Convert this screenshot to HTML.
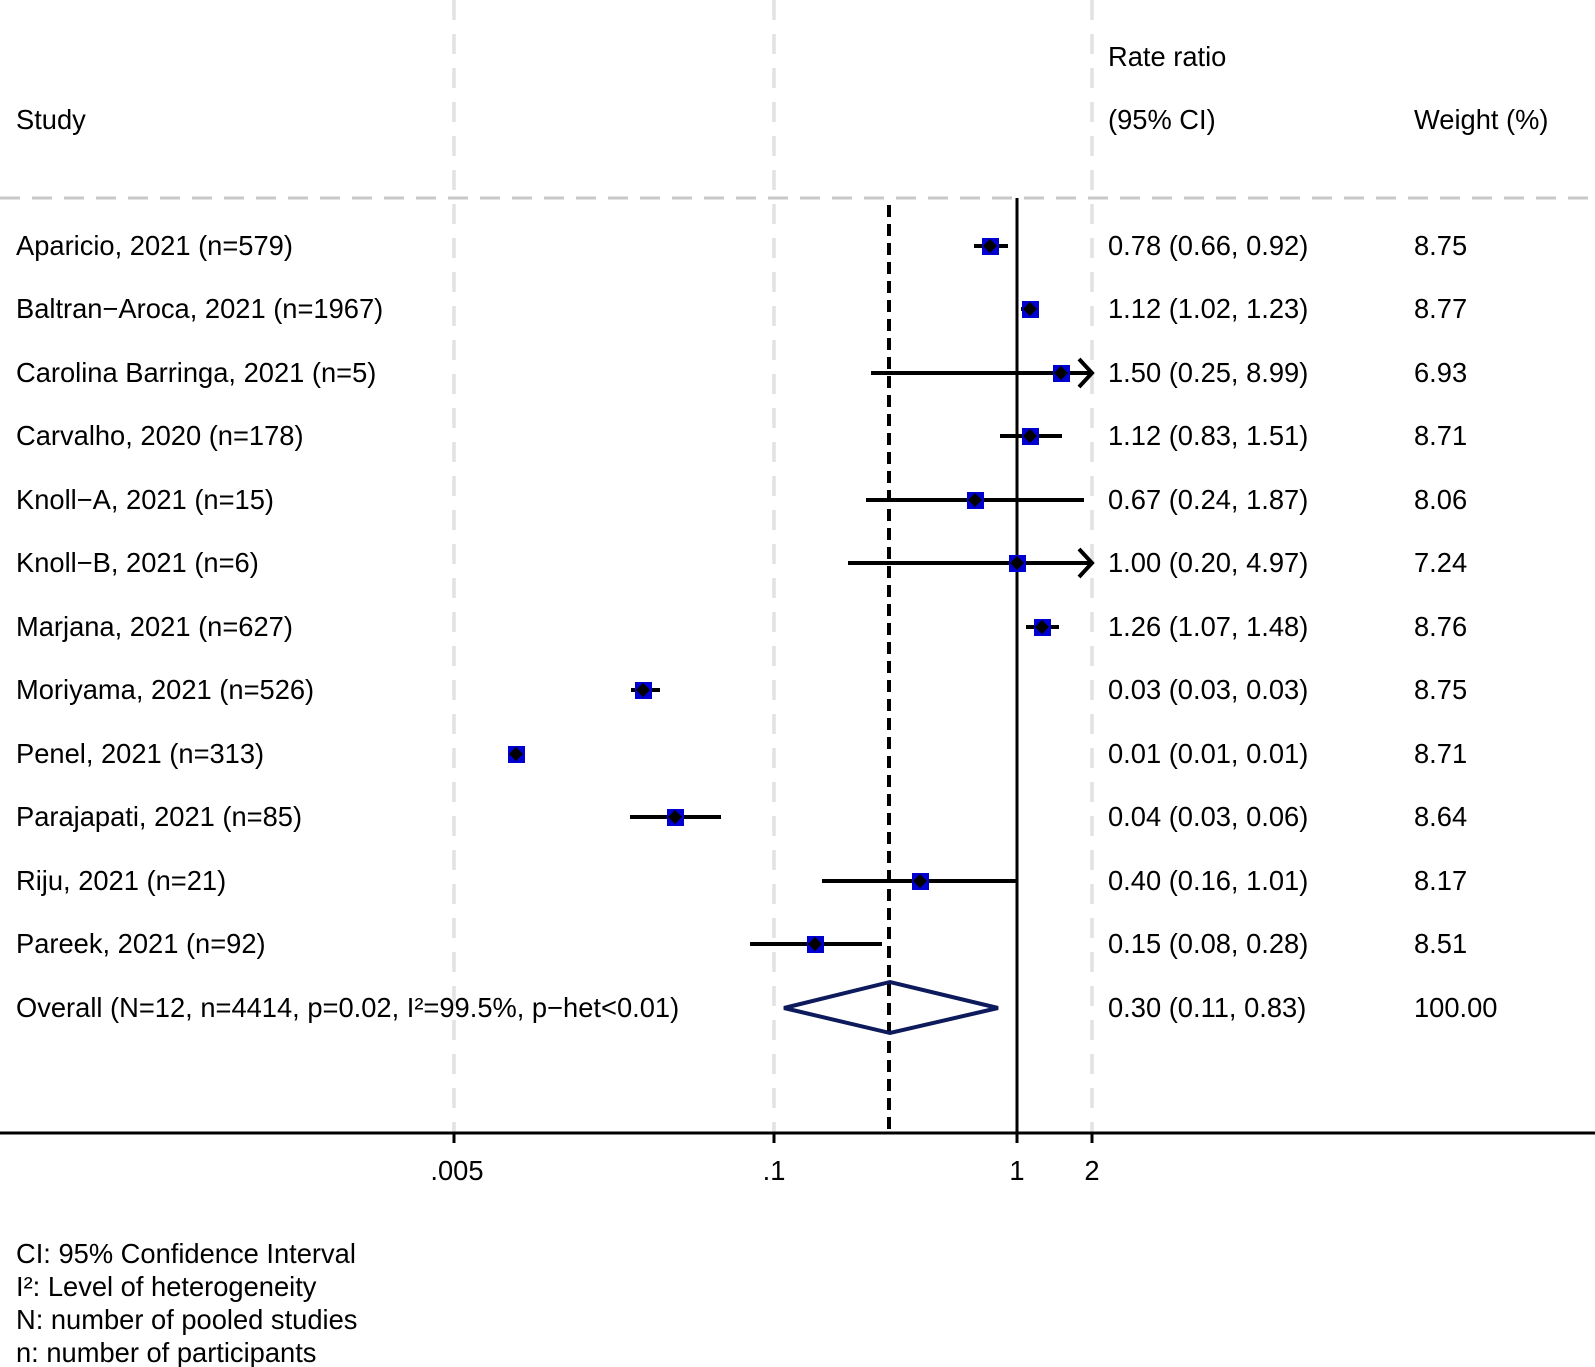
<!DOCTYPE html>
<html><head><style>body{margin:0;background:#fff}svg{display:block}text{font-family:"Liberation Sans",Arial,sans-serif;font-size:27.3px;fill:#000}</style></head><body>
<svg width="1595" height="1367" viewBox="0 0 1595 1367" xmlns="http://www.w3.org/2000/svg">
<g stroke="#e2e2e2" stroke-width="3.5" stroke-dasharray="20,14">
<line x1="454" y1="0" x2="454" y2="1133"/><line x1="774" y1="0" x2="774" y2="1133"/><line x1="1092" y1="0" x2="1092" y2="1133"/>
</g>
<line x1="0" y1="198" x2="1595" y2="198" stroke="#c8c8c8" stroke-width="3" stroke-dasharray="20,12"/>
<line x1="1017" y1="198" x2="1017" y2="1133" stroke="#000" stroke-width="3"/>
<line x1="889" y1="205" x2="889" y2="1133" stroke="#000" stroke-width="4" stroke-dasharray="12,7"/>
<line x1="0" y1="1133" x2="1595" y2="1133" stroke="#000" stroke-width="3"/>
<g stroke="#000" stroke-width="3">
<line x1="454" y1="1133" x2="454" y2="1143"/><line x1="774" y1="1133" x2="774" y2="1143"/><line x1="1017" y1="1133" x2="1017" y2="1143"/><line x1="1092" y1="1133" x2="1092" y2="1143"/>
</g>
<g text-anchor="middle"><text x="457" y="1180">.005</text><text x="774" y="1180">.1</text><text x="1017" y="1180">1</text><text x="1092" y="1180">2</text></g>
<text x="1108" y="66">Rate ratio</text><text x="1108" y="129">(95% CI)</text><text x="16" y="129">Study</text><text x="1414" y="129">Weight (%)</text>
<g stroke="#000" stroke-width="4" fill="none">
<line x1="974" y1="246" x2="1008" y2="246"/>
<line x1="1021" y1="309" x2="1038" y2="309"/>
<line x1="871" y1="373" x2="1090" y2="373"/><polyline points="1079,359 1092,373 1079,387"/>
<line x1="1000" y1="436" x2="1062" y2="436"/>
<line x1="866" y1="500" x2="1084" y2="500"/>
<line x1="848" y1="563" x2="1090" y2="563"/><polyline points="1079,549 1092,563 1079,577"/>
<line x1="1026" y1="627" x2="1059" y2="627"/>
<line x1="631" y1="690" x2="660" y2="690"/>
<line x1="630" y1="817" x2="721" y2="817"/>
<line x1="822" y1="881" x2="1016" y2="881"/>
<line x1="750" y1="944" x2="882" y2="944"/>
</g>
<g>
<rect x="982" y="238" width="17" height="17" fill="#0000d0"/>
<rect x="1022" y="301" width="17" height="17" fill="#0000d0"/>
<rect x="1053" y="365" width="17" height="17" fill="#0000d0"/>
<rect x="1022" y="428" width="17" height="17" fill="#0000d0"/>
<rect x="967" y="492" width="17" height="17" fill="#0000d0"/>
<rect x="1009" y="555" width="17" height="17" fill="#0000d0"/>
<rect x="1034" y="619" width="17" height="17" fill="#0000d0"/>
<rect x="635" y="682" width="17" height="17" fill="#0000d0"/>
<rect x="508" y="746" width="17" height="17" fill="#0000d0"/>
<rect x="667" y="809" width="17" height="17" fill="#0000d0"/>
<rect x="912" y="873" width="17" height="17" fill="#0000d0"/>
<rect x="807" y="936" width="17" height="17" fill="#0000d0"/>
</g>
<g fill="#000">
<polygon points="990,239 997,246 990,253 983,246"/>
<polygon points="1030,302 1037,309 1030,316 1023,309"/>
<polygon points="1061,366 1068,373 1061,380 1054,373"/>
<polygon points="1030,429 1037,436 1030,443 1023,436"/>
<polygon points="975,493 982,500 975,507 968,500"/>
<polygon points="1017,556 1024,563 1017,570 1010,563"/>
<polygon points="1042,620 1049,627 1042,634 1035,627"/>
<polygon points="643,683 650,690 643,697 636,690"/>
<polygon points="516,747 523,754 516,761 509,754"/>
<polygon points="675,810 682,817 675,824 668,817"/>
<polygon points="920,874 927,881 920,888 913,881"/>
<polygon points="815,937 822,944 815,951 808,944"/>
</g>
<polygon points="784,1008 890,982 998,1008 890,1033" fill="none" stroke="#0d1a5c" stroke-width="4"/>
<g>
<text x="16" y="255">Aparicio, 2021 (n=579)</text>
<text x="16" y="318">Baltran−Aroca, 2021 (n=1967)</text>
<text x="16" y="382">Carolina Barringa, 2021 (n=5)</text>
<text x="16" y="445">Carvalho, 2020 (n=178)</text>
<text x="16" y="509">Knoll−A, 2021 (n=15)</text>
<text x="16" y="572">Knoll−B, 2021 (n=6)</text>
<text x="16" y="636">Marjana, 2021 (n=627)</text>
<text x="16" y="699">Moriyama, 2021 (n=526)</text>
<text x="16" y="763">Penel, 2021 (n=313)</text>
<text x="16" y="826">Parajapati, 2021 (n=85)</text>
<text x="16" y="890">Riju, 2021 (n=21)</text>
<text x="16" y="953">Pareek, 2021 (n=92)</text>
<text x="16" y="1017">Overall (N=12, n=4414, p=0.02, I²=99.5%, p−het&lt;0.01)</text>
</g>
<g>
<text x="1108" y="255">0.78 (0.66, 0.92)</text><text x="1414" y="255">8.75</text>
<text x="1108" y="318">1.12 (1.02, 1.23)</text><text x="1414" y="318">8.77</text>
<text x="1108" y="382">1.50 (0.25, 8.99)</text><text x="1414" y="382">6.93</text>
<text x="1108" y="445">1.12 (0.83, 1.51)</text><text x="1414" y="445">8.71</text>
<text x="1108" y="509">0.67 (0.24, 1.87)</text><text x="1414" y="509">8.06</text>
<text x="1108" y="572">1.00 (0.20, 4.97)</text><text x="1414" y="572">7.24</text>
<text x="1108" y="636">1.26 (1.07, 1.48)</text><text x="1414" y="636">8.76</text>
<text x="1108" y="699">0.03 (0.03, 0.03)</text><text x="1414" y="699">8.75</text>
<text x="1108" y="763">0.01 (0.01, 0.01)</text><text x="1414" y="763">8.71</text>
<text x="1108" y="826">0.04 (0.03, 0.06)</text><text x="1414" y="826">8.64</text>
<text x="1108" y="890">0.40 (0.16, 1.01)</text><text x="1414" y="890">8.17</text>
<text x="1108" y="953">0.15 (0.08, 0.28)</text><text x="1414" y="953">8.51</text>
<text x="1108" y="1017">0.30 (0.11, 0.83)</text><text x="1414" y="1017">100.00</text>
</g>
<g>
<text x="16" y="1263">CI: 95% Confidence Interval</text>
<text x="16" y="1296">I²: Level of heterogeneity</text>
<text x="16" y="1329">N: number of pooled studies</text>
<text x="16" y="1362">n: number of participants</text>
</g>
</svg>
</body></html>
